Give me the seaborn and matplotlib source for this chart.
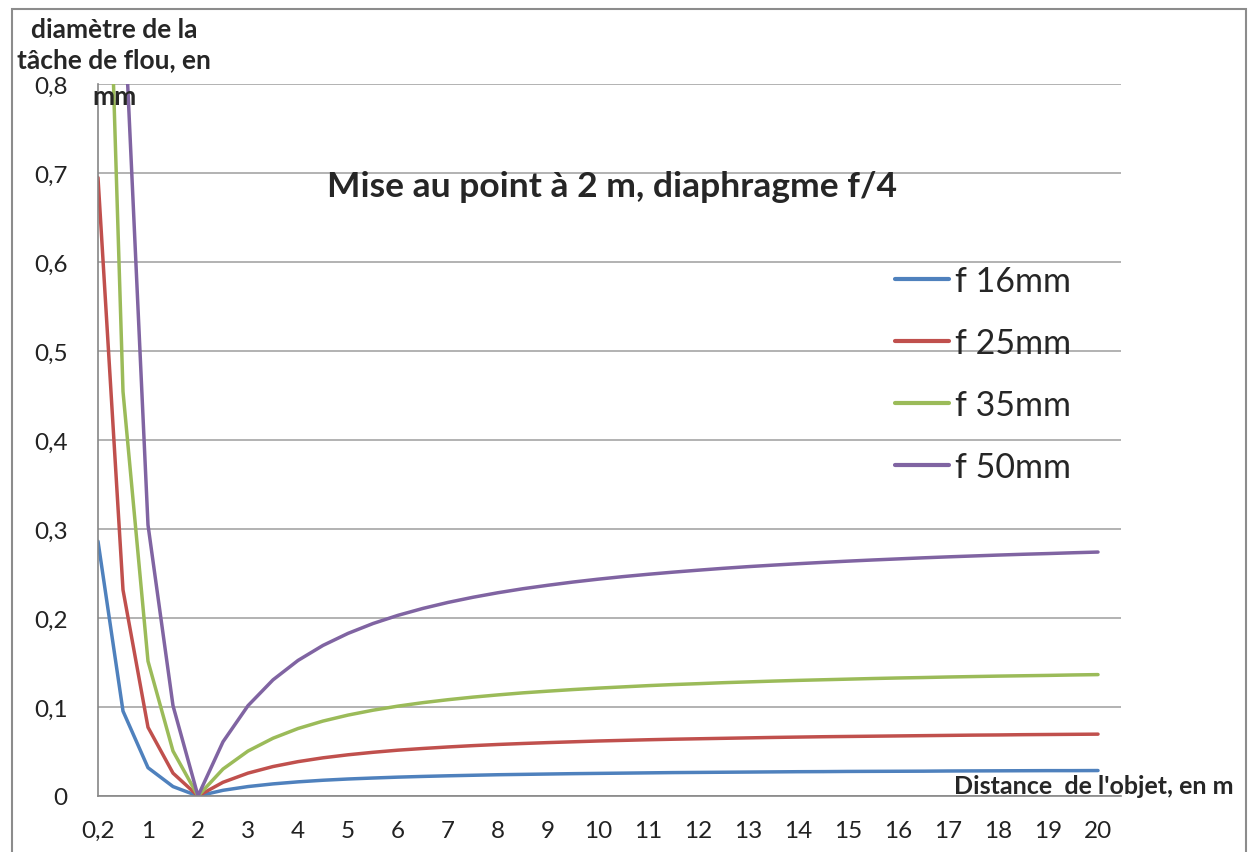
import numpy as np
import pandas as pd
import seaborn as sns
import matplotlib.pyplot as plt
from matplotlib.patches import Rectangle

# distances de l'objet (m), une catégorie par point
distances = [0.2, 0.5, 1, 1.5, 2, 2.5, 3, 3.5, 4, 4.5, 5, 5.5, 6, 6.5, 7, 7.5, 8, 8.5, 9, 9.5, 10,
             10.5, 11, 11.5, 12, 12.5, 13, 13.5, 14, 14.5, 15, 15.5, 16, 16.5, 17, 17.5, 18, 18.5,
             19, 19.5, 20]

# diamètre de la tâche de flou (mm)
f16 = [0.2862, 0.0954, 0.0318, 0.0106, 0, 0.0064, 0.0106, 0.0136, 0.0159, 0.0177, 0.0191,
       0.0202, 0.0212, 0.0220, 0.0227, 0.0233, 0.0239, 0.0243, 0.0247, 0.0251, 0.0254, 0.0257,
       0.0260, 0.0263, 0.0265, 0.0267, 0.0269, 0.0271, 0.0273, 0.0274, 0.0276, 0.0277, 0.0278,
       0.0279, 0.0281, 0.0282, 0.0283, 0.0284, 0.0285, 0.0285, 0.0286]
f25 = [0.6948, 0.2316, 0.0772, 0.0257, 0, 0.0154, 0.0257, 0.0331, 0.0386, 0.0429, 0.0463,
       0.0491, 0.0515, 0.0534, 0.0551, 0.0566, 0.0579, 0.0590, 0.0600, 0.0609, 0.0618, 0.0625,
       0.0632, 0.0638, 0.0643, 0.0648, 0.0653, 0.0658, 0.0662, 0.0666, 0.0669, 0.0672, 0.0675,
       0.0678, 0.0681, 0.0684, 0.0686, 0.0689, 0.0691, 0.0693, 0.0695]
f35 = [1.3635, 0.4545, 0.1515, 0.0505, 0, 0.0303, 0.0505, 0.0649, 0.0758, 0.0842, 0.0909,
       0.0964, 0.1010, 0.1049, 0.1082, 0.1111, 0.1136, 0.1159, 0.1178, 0.1196, 0.1212, 0.1226,
       0.1240, 0.1252, 0.1262, 0.1273, 0.1282, 0.1291, 0.1299, 0.1306, 0.1313, 0.1320, 0.1326,
       0.1331, 0.1337, 0.1342, 0.1347, 0.1351, 0.1355, 0.1360, 0.1364]
f50 = [2.7405, 0.9135, 0.3045, 0.1015, 0, 0.0609, 0.1015, 0.1305, 0.1523, 0.1692, 0.1827,
       0.1938, 0.2030, 0.2108, 0.2175, 0.2233, 0.2284, 0.2329, 0.2368, 0.2404, 0.2436, 0.2465,
       0.2491, 0.2515, 0.2537, 0.2558, 0.2577, 0.2594, 0.2610, 0.2625, 0.2639, 0.2652, 0.2664,
       0.2676, 0.2687, 0.2697, 0.2707, 0.2716, 0.2724, 0.2733, 0.2741]

series = {'f 16mm': f16, 'f 25mm': f25, 'f 35mm': f35, 'f 50mm': f50}
couleurs = ['#4F81BD', '#C0504D', '#9BBB59', '#8064A2']
y_ticks = [0, 0.1, 0.2, 0.3, 0.4, 0.5, 0.6, 0.7, 0.8]

sns.set_style('white')
plt.rcParams['font.family'] = ['Lato', 'DejaVu Sans']

df = pd.DataFrame(series)
df['pos'] = np.arange(len(distances))
df = df.melt(id_vars='pos', var_name='focale', value_name='diametre')

fig = plt.figure(figsize=(12.48, 8.53), dpi=100)
ax = fig.add_axes([98 / 1248, 1 - 797 / 853, (1121 - 98) / 1248, (797 - 85) / 853])

sns.lineplot(data=df, x='pos', y='diametre', hue='focale', palette=couleurs,
             linewidth=2.5, ax=ax, legend=True)

ax.set_xlim(0, (1121 - 98) / 25)
ax.set_ylim(0, 0.8)
ax.set_yticks(y_ticks)
ax.set_yticklabels([f"{v:g}".replace('.', ',') for v in y_ticks])
ax.set_xticks(np.arange(0, len(distances), 2))
ax.set_xticklabels([f"{d:g}".replace('.', ',') for d in distances[::2]])
ax.tick_params(axis='both', labelsize=17.5, colors='#868686', labelcolor='#222222',
               length=7, width=1.2, direction='out')
ax.tick_params(axis='y', pad=15)
ax.tick_params(axis='x', pad=10)
ax.set_xlabel('')
ax.set_ylabel('')

ax.grid(axis='y', color='#A6A6A6', linewidth=1.2)
ax.grid(axis='x', visible=False)
for s in ['top', 'right']:
    ax.spines[s].set_visible(False)
for s in ['left', 'bottom']:
    ax.spines[s].set_color('#868686')
    ax.spines[s].set_linewidth(1.2)

leg = ax.legend(loc='upper left', bbox_to_anchor=(895 / 1248, 1 - 266 / 853),
                bbox_transform=fig.transFigure, frameon=False, fontsize=24.5,
                handlelength=1.6, handletextpad=0.15, labelspacing=0.88,
                borderpad=0, borderaxespad=0)
for line in leg.get_lines():
    line.set_linewidth(3)

fig.text(612 / 1248, 1 - 187 / 853, 'Mise au point à 2 m, diaphragme f/4',
         ha='center', va='center', fontsize=25.5, fontweight='bold')
# titre de l'axe y, à la façon d'Excel (coupé sur trois lignes)
fig.text(114 / 1248, 1 - 45 / 853, 'diamètre de la\ntâche de flou, en',
         ha='center', va='center', fontsize=19, fontweight='bold', linespacing=1.3)
fig.text(114 / 1248, 1 - 97 / 853, 'mm',
         ha='center', va='center', fontsize=19, fontweight='bold')
fig.text(954 / 1248, 1 - 787 / 853, "Distance  de l'objet, en m",
         ha='left', va='center', fontsize=18, fontweight='bold')

# cadre du graphique
fig.patches.append(Rectangle((12 / 1248, -0.02), (1246 - 12) / 1248, 1 - 10 / 853 + 0.02,
                             transform=fig.transFigure, fill=False,
                             edgecolor='#8C8C8C', linewidth=1.5))

fig.savefig('out.png', dpi=100)
